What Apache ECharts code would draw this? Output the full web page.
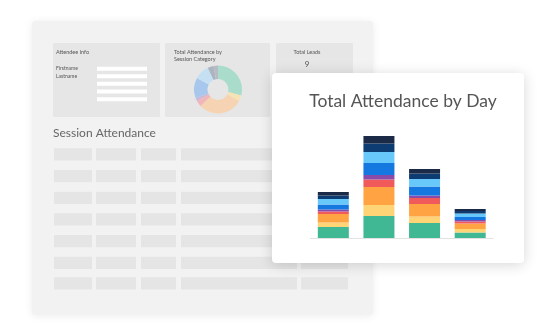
<!DOCTYPE html>
<html>
<head>
<meta charset="utf-8">
<script src="https://cdn.jsdelivr.net/npm/echarts@6/dist/echarts.min.js"></script>
<style>
  html, body { margin: 0; padding: 0; background: #ffffff; }
  #main { width: 560px; height: 334px; }
</style>
</head>
<body>
<div id="main"></div>
<script>
// days on the x axis (labels are not shown in the picture)
var days = ['Day 1', 'Day 2', 'Day 3', 'Day 4'];

// stacked attendance per session category, bottom to top
var green = [11, 22, 15, 5.5];
var yellow = [4.5, 11, 6.5, 3.5];
var orange = [8.5, 18, 12.5, 5.5];
var red = [2.5, 7.5, 6, 2];
var purple = [2, 4.5, 2.5, 1.5];
var blue = [5, 12, 9, 3];
var lightBlue = [5.5, 11, 7.5, 3.5];
var navy = [3.5, 8.5, 5.5, 2.5];
var darkNavy = [3.5, 7.5, 4.5, 2];

// faded donut in the background dashboard
var categoryShare = [29, 4, 30, 4, 2, 14, 10, 4, 3];

var chartDom = document.getElementById('main');
var myChart = echarts.init(chartDom);
var option;

var barColors = ['#3fb893', '#fed477', '#ffa343', '#f05a5a', '#8a4ba9', '#1577e0', '#69c8fa', '#0c3c72', '#1b2b47'];
var pieColors = ['#a9dccb', '#f5e3b5', '#f6d3b2', '#f1b6b8', '#cbb8d7', '#a8c7ec', '#c4e0f2', '#aab5c1', '#b7bcc4'];
var stacks = [green, yellow, orange, red, purple, blue, lightBlue, navy, darkNavy];

var font = 'Lato, "Open Sans", sans-serif';

// background dashboard pieces
var elements = [
  {
    type: 'rect', z: 0,
    shape: { x: 32, y: 21, width: 341, height: 294, r: 3 },
    style: { fill: '#f2f2f2', shadowBlur: 8, shadowColor: 'rgba(0,0,0,0.08)', shadowOffsetY: 1 }
  },
  { type: 'rect', z: 1, shape: { x: 53, y: 43, width: 107, height: 74, r: 1 }, style: { fill: '#e6e6e6' } },
  { type: 'rect', z: 1, shape: { x: 165, y: 43, width: 105, height: 74, r: 1 }, style: { fill: '#e6e6e6' } },
  { type: 'rect', z: 1, shape: { x: 276, y: 43, width: 77, height: 74, r: 1 }, style: { fill: '#e6e6e6' } },
  { type: 'text', z: 2, x: 56, y: 52, style: { text: 'Attendee Info', font: '5.5px ' + font, fill: '#555', verticalAlign: 'middle' } },
  { type: 'text', z: 2, x: 56, y: 68.5, style: { text: 'Firstname', font: '5px ' + font, fill: '#555', verticalAlign: 'middle' } },
  { type: 'text', z: 2, x: 56, y: 76, style: { text: 'Lastname', font: '5px ' + font, fill: '#555', verticalAlign: 'middle' } },
  { type: 'text', z: 2, x: 174, y: 52, style: { text: 'Total Attendance by', font: '5.5px ' + font, fill: '#555', verticalAlign: 'middle' } },
  { type: 'text', z: 2, x: 174, y: 59, style: { text: 'Session Category', font: '5.5px ' + font, fill: '#555', verticalAlign: 'middle' } },
  { type: 'text', z: 2, x: 307, y: 52, style: { text: 'Total Leads', font: '5.5px ' + font, fill: '#555', align: 'center', verticalAlign: 'middle' } },
  { type: 'text', z: 2, x: 307, y: 64.5, style: { text: '9', font: '8px ' + font, fill: '#555', align: 'center', verticalAlign: 'middle' } },
  { type: 'text', z: 2, x: 53, y: 133, style: { text: 'Session Attendance', font: '12px ' + font, fill: '#666', verticalAlign: 'middle' } },
  // white popup card
  {
    type: 'rect', z: 5,
    shape: { x: 272, y: 73, width: 252, height: 190, r: 4 },
    style: { fill: '#ffffff', shadowBlur: 14, shadowColor: 'rgba(0,0,0,0.16)', shadowOffsetY: 2 }
  },
  { type: 'text', z: 6, x: 403, y: 101, style: { text: 'Total Attendance by Day', font: '17.5px ' + font, fill: '#555', align: 'center', verticalAlign: 'middle' } }
];

// form field bars in Attendee Info
[66.7, 74.2, 81.8, 89.4, 97.2].forEach(function (y) {
  elements.push({ type: 'rect', z: 2, shape: { x: 97, y: y, width: 50, height: 4 }, style: { fill: '#ffffff' } });
});

// table placeholder cells
var rowTops = [148.3, 170, 191.7, 213.3, 235, 256.7, 277.3];
var cols = [[54, 38], [96, 40], [141, 35], [181, 116], [301, 47]];
rowTops.forEach(function (y) {
  cols.forEach(function (c) {
    elements.push({ type: 'rect', z: 1, shape: { x: c[0], y: y, width: c[1], height: 12.3 }, style: { fill: '#e5e5e5' } });
  });
});

var series = [
  {
    type: 'pie',
    z: 1,
    center: [218, 89.5],
    radius: [10.5, 24],
    startAngle: 90,
    silent: true,
    label: { show: false },
    labelLine: { show: false },
    itemStyle: { borderWidth: 0 },
    data: categoryShare.map(function (v, i) {
      return { value: v, itemStyle: { color: pieColors[i] } };
    })
  }
];

stacks.forEach(function (values, i) {
  series.push({
    type: 'bar',
    stack: 'total',
    z: 10,
    barWidth: 31,
    silent: true,
    itemStyle: { color: barColors[i] },
    data: values
  });
});

option = {
  animation: false,
  graphic: { elements: elements },
  grid: { left: 310.5, right: 67, top: 128, bottom: 96, containLabel: false },
  xAxis: {
    type: 'category',
    data: days,
    z: 10,
    axisLine: { lineStyle: { color: '#e2e2e2', width: 1 } },
    axisTick: { show: false },
    axisLabel: { show: false }
  },
  yAxis: {
    type: 'value',
    min: 0,
    max: 110,
    show: false,
    splitLine: { show: false }
  },
  series: series
};

option && myChart.setOption(option);
</script>
</body>
</html>
